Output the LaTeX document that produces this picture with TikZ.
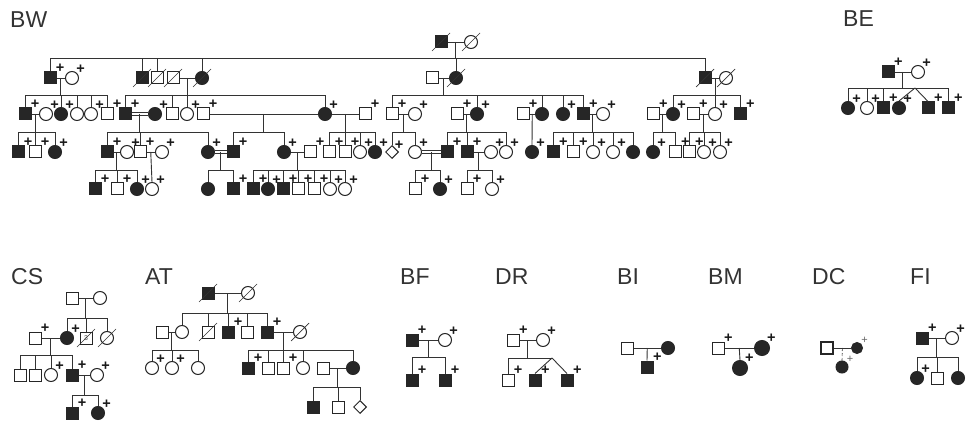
\documentclass[tikz,border=0pt]{standalone}
\usepackage{fontspec}
\setmainfont{Liberation Sans}
\usetikzlibrary{shapes.geometric}

% descent line from a couple, sibship line and drops to the children
\newcommand{\kids}[5]{%
  \draw[line] (#1) -- (#1 |- 0,#2);
  \draw[line] (#3.north) |- (#4.north |- 0,#2) -- (#4.north);
  \foreach \c in {#5} {\draw[line] (\c.north) -- (\c.north |- 0,#2);}
}
% deceased: slash through the symbol
\newcommand{\deceased}[1]{\draw[deadline] ([shift={(-9,9)}]#1.center) -- ([shift={(9,-9)}]#1.center);}

\begin{document}
\begin{tikzpicture}[
    x=1pt, y=-1pt,
    sym/.style={
        draw=black!85,
        line width=1pt,
        fill=white,
        inner sep=0pt
    },
    male/.style={sym, rectangle, minimum size=12pt},
    female/.style={sym, circle, minimum size=13pt},
    unknown/.style={sym, diamond, minimum size=13pt},
    aff/.style={fill=black!85},
    plus/.style={font=\bfseries\fontsize{14.5}{14.5}\selectfont, inner sep=0pt, text=black!90},
    tested/.style={label={[plus, label distance=-1pt]45:+}},
    testedlight/.style={label={[plus, font=\fontsize{11}{11}\selectfont, text=black!60, label distance=0pt]45:+}},
    line/.style={draw=black!80, line width=0.9pt},
    consang/.style={line, double, double distance=1.6pt, line width=0.8pt},
    deadline/.style={draw=black!80, line width=0.7pt},
    family/.style={font=\fontsize{23}{23}\selectfont, text=black!80, inner sep=0pt, anchor=west}
]
\useasboundingbox (0,0) rectangle (974,422);

% family labels
\node[family] (lbl-bw) at (10,20) {BW};
\node[family] (lbl-be) at (843,19) {BE};
\node[family] (lbl-cs) at (11,277) {CS};
\node[family] (lbl-at) at (145,277) {AT};
\node[family] (lbl-bf) at (400,277) {BF};
\node[family] (lbl-dr) at (495,277) {DR};
\node[family] (lbl-bi) at (617,277) {BI};
\node[family] (lbl-bm) at (708,277) {BM};
\node[family] (lbl-dc) at (812,277) {DC};
\node[family] (lbl-fi) at (910,277) {FI};

%%% BW
% generation I
\node[male, aff] (bw1-1) at (441,42) {};
\node[female] (bw1-2) at (471,42) {};

% generation II
\node[male, aff, tested] (bw2-1) at (50,78) {};
\node[female, tested] (bw2-2) at (72,78) {};
\node[male, aff] (bw2-3) at (142,78) {};
\node[male] (bw2-4) at (157,78) {};
\node[male] (bw2-5) at (173,78) {};
\node[female, aff] (bw2-6) at (202,78) {};
\node[male] (bw2-7) at (432,78) {};
\node[female, aff] (bw2-8) at (456,78) {};
\node[male, aff] (bw2-9) at (705,78) {};
\node[female] (bw2-10) at (726,78) {};

% generation III
\node[male, aff, tested] (bw3-1) at (25,114) {};
\node[female, tested] (bw3-2) at (46,114) {};
\node[female, aff, tested] (bw3-3) at (61,114) {};
\node[female] (bw3-4) at (77,114) {};
\node[female, tested] (bw3-5) at (91,114) {};
\node[male, tested] (bw3-6) at (107,114) {};
\node[male, aff, tested] (bw3-7) at (125,114) {};
\node[female, aff, tested] (bw3-8) at (155,114) {};
\node[male] (bw3-9) at (172,114) {};
\node[female, tested] (bw3-10) at (187,114) {};
\node[male, tested] (bw3-11) at (203,114) {};
\node[female, aff, tested] (bw3-12) at (325,114) {};
\node[male, tested] (bw3-13) at (365,114) {};
\node[male, tested] (bw3-14) at (392,114) {};
\node[female, tested] (bw3-15) at (415,114) {};
\node[male, tested] (bw3-16) at (457,114) {};
\node[female, aff, tested] (bw3-17) at (477,114) {};
\node[male, tested] (bw3-18) at (523,114) {};
\node[female, aff] (bw3-19) at (542,114) {};
\node[female, aff, tested] (bw3-20) at (563,114) {};
\node[male, aff, tested] (bw3-21) at (583,114) {};
\node[female, tested] (bw3-22) at (603,114) {};
\node[male, tested] (bw3-23) at (653,114) {};
\node[female, aff, tested] (bw3-24) at (673,114) {};
\node[male, tested] (bw3-25) at (693,114) {};
\node[female, tested] (bw3-26) at (715,114) {};
\node[male, aff, tested] (bw3-27) at (740,114) {};

% generation IV
\node[male, aff, tested] (bw4-1) at (18,152) {};
\node[male, tested] (bw4-2) at (35,152) {};
\node[female, aff, tested] (bw4-3) at (55,152) {};
\node[male, aff, tested] (bw4-4) at (107,152) {};
\node[female, tested] (bw4-5) at (127,152) {};
\node[male, tested] (bw4-6) at (140,152) {};
\node[female, tested] (bw4-7) at (162,152) {};
\node[female, aff, tested] (bw4-8) at (208,152) {};
\node[male, aff, tested] (bw4-9) at (233,152) {};
\node[female, aff, tested] (bw4-10) at (284,152) {};
\node[male, tested] (bw4-11) at (310,152) {};
\node[male, tested] (bw4-12) at (329,152) {};
\node[male, tested] (bw4-13) at (345,152) {};
\node[female, tested] (bw4-14) at (360,152) {};
\node[female, aff, tested] (bw4-15) at (375,152) {};
\node[unknown, tested] (bw4-16) at (392,152) {};
\node[female, tested] (bw4-17) at (415,152) {};
\node[male, aff, tested] (bw4-18) at (447,152) {};
\node[male, aff, tested] (bw4-19) at (467,152) {};
\node[female, tested] (bw4-20) at (491,152) {};
\node[female, tested] (bw4-21) at (506,152) {};
\node[female, aff, tested] (bw4-22) at (532,152) {};
\node[male, aff, tested] (bw4-23) at (553,152) {};
\node[male, tested] (bw4-24) at (573,152) {};
\node[female, tested] (bw4-25) at (593,152) {};
\node[female, tested] (bw4-26) at (613,152) {};
\node[female, aff] (bw4-27) at (633,152) {};
\node[female, aff, tested] (bw4-28) at (653,152) {};
\node[male, tested] (bw4-29) at (675,152) {};
\node[male, tested] (bw4-30) at (689,152) {};
\node[female, tested] (bw4-31) at (704,152) {};
\node[female, tested] (bw4-32) at (720,152) {};

% generation V
\node[male, aff, tested] (bw5-1) at (95,189) {};
\node[male, tested] (bw5-2) at (117,189) {};
\node[female, aff, tested] (bw5-3) at (137,189) {};
\node[female, tested] (bw5-4) at (152,189) {};
\node[female, aff] (bw5-5) at (208,189) {};
\node[male, aff, tested] (bw5-6) at (233,189) {};
\node[male, aff, tested] (bw5-7) at (253,189) {};
\node[female, aff, tested] (bw5-8) at (268,189) {};
\node[male, aff, tested] (bw5-9) at (283,189) {};
\node[male, tested] (bw5-10) at (298,189) {};
\node[male, tested] (bw5-11) at (314,189) {};
\node[female, tested] (bw5-12) at (330,189) {};
\node[female, tested] (bw5-13) at (345,189) {};
\node[male, tested] (bw5-14) at (415,189) {};
\node[female, aff, tested] (bw5-15) at (440,189) {};
\node[male, tested] (bw5-16) at (467,189) {};
\node[female, tested] (bw5-17) at (492,189) {};

% couples and children
\draw[line] (bw1-1) -- (bw1-2) coordinate[midway] (bw-m1);
\kids{bw-m1}{58}{bw2-1}{bw2-9}{bw2-3,bw2-4,bw2-6,bw2-8}

\draw[line] (bw2-1) -- (bw2-2) coordinate[midway] (bw-m2);
\draw[line] (bw2-5) -- (bw2-6) coordinate[midway] (bw-m3);
\draw[line] (bw2-7) -- (bw2-8) coordinate[midway] (bw-m4);
\draw[line] (bw2-9) -- (bw2-10) coordinate[midway] (bw-m5);
\kids{bw-m2}{95}{bw3-1}{bw3-6}{bw3-3,bw3-4,bw3-5}
\kids{bw-m3}{95}{bw3-7}{bw3-12}{bw3-9,bw3-10}
\kids{bw-m4}{95}{bw3-14}{bw3-21}{bw3-17,bw3-19,bw3-20}
\kids{bw-m5}{95}{bw3-24}{bw3-27}{bw3-26}

\draw[line] (bw3-1) -- (bw3-2) coordinate[midway] (bw-m6);
\draw[consang] (bw3-7) -- (bw3-8) coordinate[midway] (bw-m7);
\draw[line] (bw3-11) -- (bw3-12) coordinate[midway] (bw-m8);
\draw[line] (bw3-12) -- (bw3-13) coordinate[midway] (bw-m9);
\draw[line] (bw3-14) -- (bw3-15) coordinate[midway] (bw-m10);
\draw[line] (bw3-16) -- (bw3-17) coordinate[midway] (bw-m11);
\draw[line] (bw3-18) -- (bw3-19) coordinate[midway] (bw-m12);
\draw[line] (bw3-21) -- (bw3-22) coordinate[midway] (bw-m13);
\draw[line] (bw3-23) -- (bw3-24) coordinate[midway] (bw-m14);
\draw[line] (bw3-25) -- (bw3-26) coordinate[midway] (bw-m15);
\kids{bw-m6}{132}{bw4-1}{bw4-3}{bw4-2}
\kids{bw-m7}{132}{bw4-4}{bw4-8}{bw4-6}
\kids{bw-m8}{132}{bw4-9}{bw4-10}{bw4-9}
\kids{bw-m9}{132}{bw4-12}{bw4-15}{bw4-13,bw4-14}
\kids{bw-m10}{132}{bw4-16}{bw4-17}{bw4-16}
\kids{bw-m11}{132}{bw4-18}{bw4-21}{bw4-19}
\draw[line] (bw-m12) -- (bw4-22.north);
\kids{bw-m13}{132}{bw4-23}{bw4-27}{bw4-24,bw4-25,bw4-26}
\kids{bw-m14}{132}{bw4-28}{bw4-29}{bw4-28}
\kids{bw-m15}{132}{bw4-30}{bw4-32}{bw4-31}

\draw[line] (bw4-4) -- (bw4-5) coordinate[midway] (bw-m16);
\draw[line] (bw4-6) -- (bw4-7) coordinate[midway] (bw-m17);
\draw[consang] (bw4-8) -- (bw4-9) coordinate[midway] (bw-m18);
\draw[line] (bw4-10) -- (bw4-11) coordinate[midway] (bw-m19);
\draw[consang] (bw4-17) -- (bw4-18) coordinate[midway] (bw-m20);
\draw[line] (bw4-19) -- (bw4-20) coordinate[midway] (bw-m21);
\kids{bw-m16}{170}{bw5-1}{bw5-3}{bw5-2}
\draw[line] (bw-m17) -- (bw5-4.north);
\kids{bw-m18}{170}{bw5-5}{bw5-6}{bw5-5}
\kids{bw-m19}{170}{bw5-7}{bw5-13}{bw5-8,bw5-9,bw5-10,bw5-11,bw5-12}
\kids{bw-m20}{170}{bw5-14}{bw5-15}{bw5-14}
\kids{bw-m21}{170}{bw5-16}{bw5-17}{bw5-16}

\foreach \d in {bw1-1,bw1-2,bw2-3,bw2-4,bw2-5,bw2-6,bw2-8,bw2-9,bw2-10} {\deceased{\d}}

%%% BE
\node[male, aff, tested] (be1) at (888,72) {};
\node[female, tested] (be2) at (918,72) {};
\node[female, aff, tested] (be3) at (848,108) {};
\node[female, tested] (be4) at (867,108) {};
\node[male, aff, tested] (be5) at (883,108) {};
\node[female, aff, tested] (be6) at (899,108) {};
\node[male, aff, tested] (be7) at (928,108) {};
\node[male, aff, tested] (be8) at (948,108) {};
\draw[line] (be1) -- (be2) coordinate[midway] (be-m);
\kids{be-m}{88}{be3}{be8}{be4,be5}
\coordinate (be-tw) at (915,88);
\draw[line] (be-tw) -- (be6.north);
\draw[line] (be-tw) -- (be7.north);

%%% CS
\node[male] (cs1) at (72,298) {};
\node[female] (cs2) at (100,298) {};
\node[male, tested] (cs0) at (35,338) {};
\node[female, aff, tested] (cs3) at (67,338) {};
\node[male, text=black!70, font=\fontsize{7}{7}\selectfont] (cs4) at (86,338) {3};
\node[female] (cs5) at (107,338) {};
\node[male] (cs6) at (20,375) {};
\node[male] (cs7) at (35,375) {};
\node[female, tested] (cs8) at (51,375) {};
\node[male, aff, tested] (cs9) at (72,375) {};
\node[female, tested] (cs10) at (97,375) {};
\node[male, aff, tested] (cs11) at (72,413) {};
\node[female, aff, tested] (cs12) at (98,413) {};
\draw[line] (cs1) -- (cs2) coordinate[midway] (cs-m1);
\draw[line] (cs0) -- (cs3) coordinate[midway] (cs-m2);
\draw[line] (cs9) -- (cs10) coordinate[midway] (cs-m3);
\kids{cs-m1}{318}{cs3}{cs5}{cs4}
\kids{cs-m2}{355}{cs6}{cs9}{cs7,cs8}
\kids{cs-m3}{395}{cs11}{cs12}{cs11}
\deceased{cs4}
\deceased{cs5}

%%% AT
\node[male, aff] (at1) at (208,293) {};
\node[female] (at2) at (248,293) {};
\node[male] (at3) at (162,332) {};
\node[female] (at4) at (182,332) {};
\node[male] (at5) at (208,332) {};
\node[male, aff, tested] (at6) at (228,332) {};
\node[male] (at7) at (247,332) {};
\node[male, aff, tested] (at8) at (267,332) {};
\node[female] (at9) at (300,332) {};
\node[female, tested] (at10) at (152,368) {};
\node[female, tested] (at11) at (172,368) {};
\node[female] (at12) at (198,368) {};
\node[male, aff, tested] (at13) at (248,368) {};
\node[male] (at14) at (268,368) {};
\node[male, tested] (at15) at (283,368) {};
\node[female] (at16) at (303,368) {};
\node[male] (at17) at (323,368) {};
\node[female, aff] (at18) at (353,368) {};
\node[male, aff] (at19) at (313,407) {};
\node[male] (at20) at (338,407) {};
\node[unknown] (at21) at (360,407) {};
\draw[line] (at1) -- (at2) coordinate[midway] (at-m1);
\draw[line] (at3) -- (at4) coordinate[midway] (at-m2);
\draw[line] (at8) -- (at9) coordinate[midway] (at-m3);
\draw[line] (at17) -- (at18) coordinate[midway] (at-m4);
\kids{at-m1}{313}{at4}{at8}{at5,at6,at7}
\kids{at-m2}{350}{at10}{at12}{at11}
\kids{at-m3}{350}{at13}{at18}{at14,at15,at16}
\kids{at-m4}{387}{at19}{at21}{at20}
\foreach \d in {at1,at2,at5,at9} {\deceased{\d}}

%%% BF
\node[male, aff, tested] (bf1) at (412,340) {};
\node[female, tested] (bf2) at (445,340) {};
\node[male, aff, tested] (bf3) at (412,380) {};
\node[male, aff, tested] (bf4) at (445,380) {};
\draw[line] (bf1) -- (bf2) coordinate[midway] (bf-m);
\kids{bf-m}{357}{bf3}{bf4}{bf3}

%%% DR
\node[male, tested] (dr1) at (513,340) {};
\node[female, tested] (dr2) at (543,340) {};
\node[male, tested] (dr3) at (508,380) {};
\node[male, aff, tested] (dr4) at (535,380) {};
\node[male, aff, tested] (dr5) at (567,380) {};
\draw[line] (dr1) -- (dr2) coordinate[midway] (dr-m);
\draw[line] (dr-m) -- (dr-m |- 0,358);
\coordinate (dr-tw) at (552,358);
\draw[line] (dr3.north) |- (dr-tw);
\draw[line] (dr-tw) -- (dr4.north);
\draw[line] (dr-tw) -- (dr5.north);

%%% BI
\node[male] (bi1) at (627,348) {};
\node[female, aff] (bi2) at (668,348) {};
\node[male, aff, tested] (bi3) at (647,367) {};
\draw[line] (bi1) -- (bi2) coordinate[midway] (bi-m);
\draw[line] (bi-m) -- (bi3.north);

%%% BM
\node[male, tested] (bm1) at (718,348) {};
\node[female, aff, tested, minimum size=15pt] (bm2) at (762,348) {};
\node[female, aff, tested, minimum size=15pt] (bm3) at (740,368) {};
\draw[line] (bm1) -- (bm2) coordinate[midway] (bm-m);
\draw[line] (bm-m) -- (bm3.north);

%%% DC
\node[male, line width=1.4pt] (dc1) at (827,348) {};
\node[female, aff, testedlight, minimum size=11pt] (dc2) at (857,348) {};
\node[female, aff, testedlight, minimum size=12pt] (dc3) at (842,367) {};
\draw[line] (dc1) -- (dc2) coordinate[midway] (dc-m);
\draw[line, densely dashed, line width=0.6pt] (dc-m) -- (dc3.north);

%%% FI
\node[male, aff, tested] (fi1) at (922,338) {};
\node[female, tested] (fi2) at (952,338) {};
\node[female, aff, tested] (fi3) at (917,378) {};
\node[male] (fi4) at (937,378) {};
\node[female, aff] (fi5) at (958,378) {};
\draw[line] (fi1) -- (fi2) coordinate[midway] (fi-m);
\kids{fi-m}{357}{fi3}{fi5}{fi4}

\end{tikzpicture}
\end{document}
